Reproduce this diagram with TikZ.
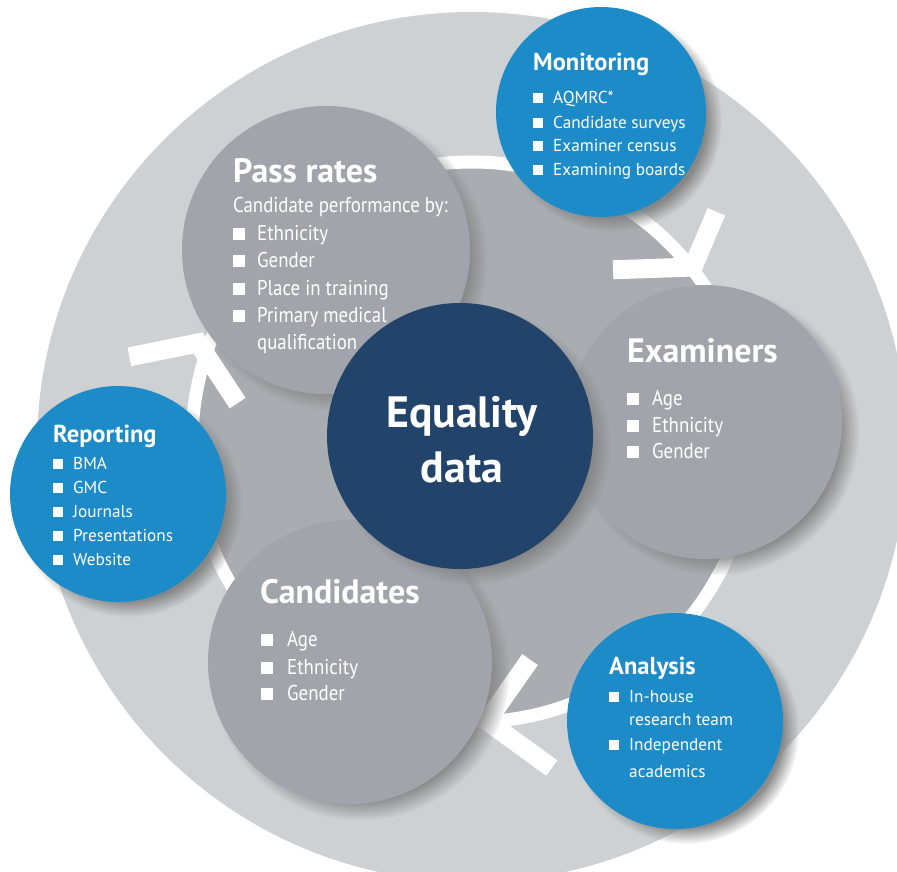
\documentclass[tikz,border=0pt]{standalone}
\usepackage{fontspec}
\setmainfont{PT Sans}[FakeStretch=0.88]
\newfontfamily\widefont{PT Sans}
\usetikzlibrary{shadows,calc}
\definecolor{bglight}{HTML}{CED1D4}
\definecolor{ringgray}{HTML}{A9ACB1}
\definecolor{circgray}{HTML}{A1A5AB}
\definecolor{navyc}{HTML}{22436A}
\definecolor{bluec}{HTML}{1E8BC9}
\newcommand{\hbig}{\widefont\fontsize{34}{40}\selectfont\bfseries}
\newcommand{\hsmall}{\widefont\fontsize{24.6}{28}\selectfont\bfseries}
\newcommand{\tbig}{\fontsize{21.5}{26}\selectfont}
\newcommand{\tsmall}{\widefont\fontsize{17.3}{20}\selectfont}
\newcommand{\heq}{\widefont\fontsize{44}{50}\selectfont\bfseries}
\newcommand{\bul}[2]{\makebox[#1][l]{\rule{#2}{#2}}}
\tikzset{
  bubble/.style={circle, inner sep=0pt, minimum size=#1,
    circular drop shadow={shadow xshift=10bp, shadow yshift=-9bp, opacity=.9, shadow scale=1.05}},
  graybub/.style={bubble=#1, fill=circgray},
  bluebub/.style={bubble=#1, fill=bluec},
  navybub/.style={bubble=#1, fill=navyc},
  chev/.style={draw=white, line width=19bp, line join=miter, line cap=butt},
  ringline/.style={draw=white, line width=13bp},
  txt/.style={anchor=base west, inner sep=0pt, text=white},
  ctxt/.style={anchor=base, inner sep=0pt, text=white}
}
\begin{document}
\begin{tikzpicture}[x=1bp,y=-1bp]
\useasboundingbox (0,0) rectangle (897,872);
\fill[white] (0,0) rectangle (897,872);
% background disc and ring
\fill[bglight] (472,447) circle (435bp);
\fill[ringgray] (472,442) circle (280bp);
\draw[ringline] (472,442) circle (280bp);
% chevrons
\coordinate (v1) at (693,267);
\coordinate (v2) at (198,343);
\coordinate (v3) at (487,721);
\draw[chev] ($(v1)+(178:80)$) -- (v1) -- ($(v1)+(-67:60)$);
\draw[chev] ($(v2)+(168.6:70)$) -- (v2) -- ($(v2)+(56.6:72)$);
\draw[chev] ($(v3)+(-55:75)$) -- (v3) -- ($(v3)+(36:80)$);
% circles
\node[graybub=288bp] (passc) at (326,250) {};
\node[graybub=274bp] (examc) at (705,422) {};
\node[graybub=284bp] (candc) at (350,662) {};
\node[bluebub=210bp] (monc) at (601,112) {};
\node[bluebub=216bp] (repc) at (118,494) {};
\node[bluebub=216bp] (anac) at (675,721) {};
\node[navybub=266bp] (eqc) at (460,436) {};
% Pass rates
\node[txt,font=\hbig] (pr0) at (233,182) {Pass rates};
\node[txt,font=\tbig] (pr1) at (233,212) {Candidate performance by:};
\node[txt,font=\tbig] (pr2) at (233,240) {\bul{24bp}{12bp}Ethnicity};
\node[txt,font=\tbig] (pr3) at (233,267) {\bul{24bp}{12bp}Gender};
\node[txt,font=\tbig] (pr4) at (233,295) {\bul{24bp}{12bp}Place in training};
\node[txt,font=\tbig] (pr5) at (233,322) {\bul{24bp}{12bp}Primary medical};
\node[txt,font=\tbig] (pr6) at (257,349) {qualification};
% Examiners
\node[txt,font=\hbig] (ex0) at (627,362) {Examiners};
\node[txt,font=\tbig] (ex1) at (627,405) {\bul{25bp}{12bp}Age};
\node[txt,font=\tbig] (ex2) at (627,432) {\bul{25bp}{12bp}Ethnicity};
\node[txt,font=\tbig] (ex3) at (627,458) {\bul{25bp}{12bp}Gender};
% Candidates
\node[txt,font=\hbig] (ca0) at (260,603) {Candidates};
\node[txt,font=\tbig] (ca1) at (261,646) {\bul{26bp}{12bp}Age};
\node[txt,font=\tbig] (ca2) at (261,674) {\bul{26bp}{12bp}Ethnicity};
\node[txt,font=\tbig] (ca3) at (261,700) {\bul{26bp}{12bp}Gender};
% Equality data
\node[ctxt,font=\heq] (eq0) at (462,427) {Equality};
\node[ctxt,font=\heq] (eq1) at (462,482) {data};
% Monitoring
\node[txt,font=\hsmall] (mo0) at (533,70) {Monitoring};
\node[txt,font=\tsmall] (mo1) at (533,103) {\bul{20bp}{10bp}AQMRC*};
\node[txt,font=\tsmall] (mo2) at (533,128) {\bul{20bp}{10bp}Candidate surveys};
\node[txt,font=\tsmall] (mo3) at (533,151) {\bul{20bp}{10bp}Examiner census};
\node[txt,font=\tsmall] (mo4) at (533,175) {\bul{20bp}{10bp}Examining boards};
% Reporting
\node[txt,font=\hsmall] (re0) at (53,442) {Reporting};
\node[txt,font=\tsmall] (re1) at (53,469) {\bul{20bp}{10bp}BMA};
\node[txt,font=\tsmall] (re2) at (53,493) {\bul{20bp}{10bp}GMC};
\node[txt,font=\tsmall] (re3) at (53,517) {\bul{20bp}{10bp}Journals};
\node[txt,font=\tsmall] (re4) at (53,541) {\bul{20bp}{10bp}Presentations};
\node[txt,font=\tsmall] (re5) at (53,565) {\bul{20bp}{10bp}Website};
% Analysis
\node[txt,font=\hsmall] (an0) at (609,674) {Analysis};
\node[txt,font=\tsmall] (an1) at (609,702) {\bul{20bp}{10bp}In-house};
\node[txt,font=\tsmall] (an2) at (629,725) {research team};
\node[txt,font=\tsmall] (an3) at (609,750) {\bul{20bp}{10bp}Independent};
\node[txt,font=\tsmall] (an4) at (629,777) {academics};
\end{tikzpicture}
\end{document}
